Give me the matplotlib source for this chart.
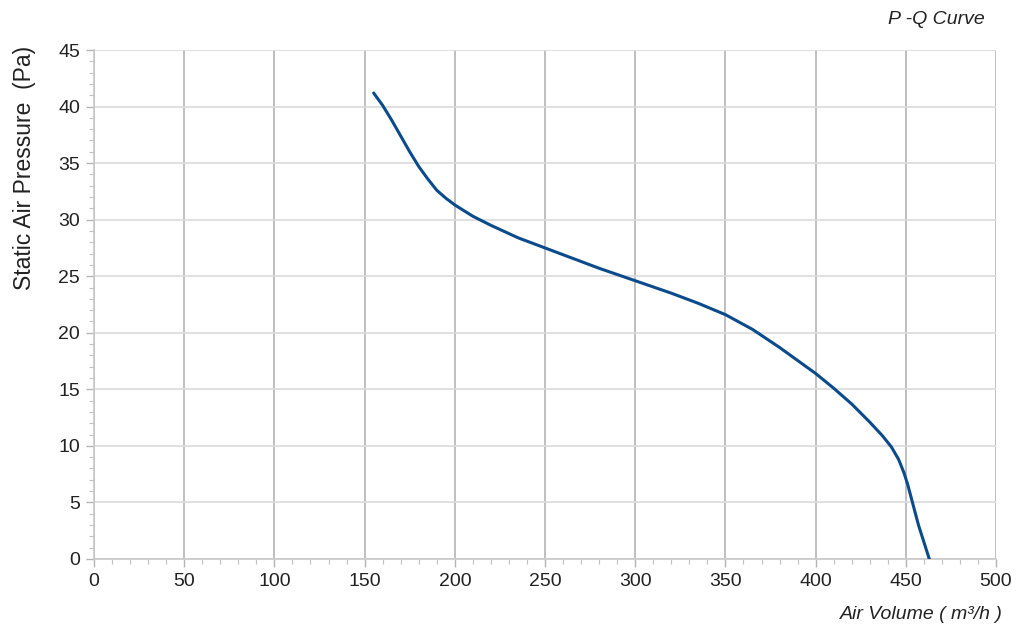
import matplotlib
matplotlib.use("Agg")
import matplotlib.pyplot as plt
from matplotlib.ticker import MultipleLocator

plt.rcParams['font.family'] = ['Liberation Sans', 'DejaVu Sans']

# P-Q curve
air_volume = [155, 160, 165, 170, 175, 180, 185, 190, 195, 200, 210, 220,
              235, 250, 265, 280, 300, 320, 335, 350, 365, 380, 400, 410,
              420, 430, 437, 442, 446, 449, 451, 453, 455, 457, 459, 461, 463]
pressure = [41.2, 40.1, 38.8, 37.4, 36.0, 34.7, 33.6, 32.6, 31.9, 31.3, 30.3, 29.5,
            28.4, 27.5, 26.6, 25.7, 24.6, 23.5, 22.6, 21.6, 20.3, 18.7, 16.4, 15.1,
            13.7, 12.1, 10.9, 9.9, 8.8, 7.6, 6.6, 5.4, 4.2, 3.0, 2.0, 1.0, 0.0]

fig = plt.figure(figsize=(10.24, 6.37), dpi=100)
ax = fig.add_axes([0.0918, 0.1225, 0.8809, 0.7990])

ax.plot(air_volume, pressure, color='#0b4a8b', lw=2.2, solid_capstyle='round',
        solid_joinstyle='round', zorder=3)

ax.set_xlim(0, 500)
ax.set_ylim(0, 45)
ax.xaxis.set_major_locator(MultipleLocator(50))
ax.xaxis.set_minor_locator(MultipleLocator(10))
ax.yaxis.set_major_locator(MultipleLocator(5))
ax.yaxis.set_minor_locator(MultipleLocator(1))

# grid: darker verticals, lighter horizontals
ax.grid(axis='x', which='major', color='#b4b4b4', lw=1.2)
ax.grid(axis='y', which='major', color='#dadada', lw=1.2)
ax.set_axisbelow(True)

for s in ['top', 'right']:
    ax.spines[s].set_visible(False)
for s in ['left', 'bottom']:
    ax.spines[s].set_color('#c8c8c8')
    ax.spines[s].set_linewidth(1.2)

ax.tick_params(which='major', length=6, width=1, color='#b4b4b4',
               labelsize=14, labelcolor='#222222', pad=4)
ax.tick_params(which='minor', length=3.5, width=0.8, color='#c0c0c0')

fig.text(0.024, 0.737, 'Static Air Pressure  (Pa)', rotation=90, ha='center', va='center',
         fontsize=16.5, color='#222222')

fig.text(0.962, 0.969, 'P -Q Curve', ha='right', va='center',
         fontsize=14, style='italic', color='#222222')
fig.text(0.979, 0.036, 'Air Volume ( m³/h )', ha='right', va='center',
         fontsize=14, style='italic', color='#222222')

fig.savefig('out.png', dpi=100, facecolor='white')
